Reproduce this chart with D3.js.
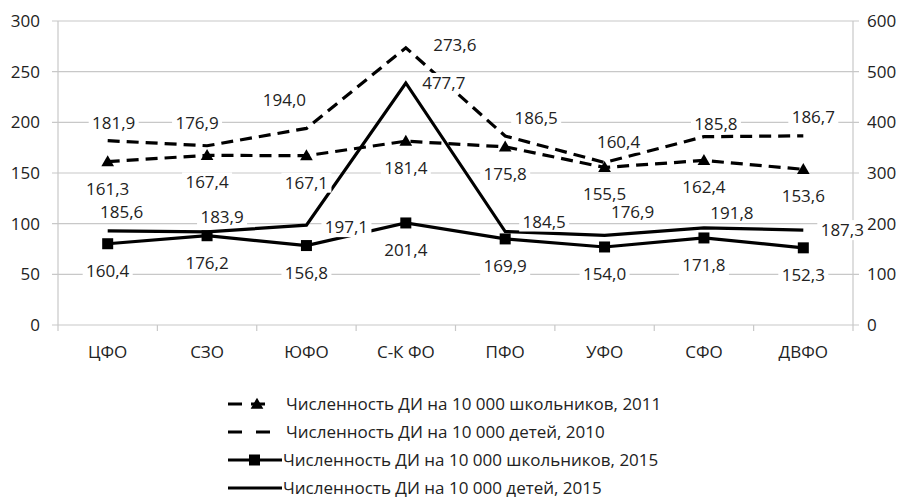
<!DOCTYPE html>
<html>
<head>
<meta charset="utf-8">
<script src="https://cdn.jsdelivr.net/npm/d3@7"></script>
<style>
  body { margin: 0; background: #fff; }
  svg text { font-family: "Open Sans", sans-serif; fill: #222; }
</style>
</head>
<body>
<svg width="902" height="498"></svg>
<script>
// data
let regions = ["ЦФО", "СЗО", "ЮФО", "С-К ФО", "ПФО", "УФО", "СФО", "ДВФО"]
let pupils2011 = [161.3, 167.4, 167.1, 181.4, 175.8, 155.5, 162.4, 153.6]
let children2010 = [181.9, 176.9, 194.0, 273.6, 186.5, 160.4, 185.8, 186.7]
let pupils2015 = [160.4, 176.2, 156.8, 201.4, 169.9, 154.0, 171.8, 152.3]
let children2015 = [185.6, 183.9, 197.1, 477.7, 184.5, 176.9, 191.8, 187.3]
let leftTicks = [0, 50, 100, 150, 200, 250, 300]
let rightTicks = [0, 100, 200, 300, 400, 500, 600]
let legendNames = [
    "Численность ДИ на 10 000 школьников, 2011",
    "Численность ДИ на 10 000 детей, 2010",
    "Численность ДИ на 10 000 школьников, 2015",
    "Численность ДИ на 10 000 детей, 2015"
]

// where the value labels sit relative to their point
let offs2010 = [[6, -18], [-10, -23], [-22, -28], [49, -3], [31, -18], [14, -20], [12, -13], [10, -19]]
let offsKids2015 = [[14, -19], [15, -15], [40, 2], [38, 0], [39, -10], [28, -23], [28, -15], [39, 0]]

let width = 902
let height = 498
let plotLeft = 58, plotRight = 853, plotTop = 21, plotBottom = 325

let svg = d3.select('svg')

let xScale = d3.scaleBand().domain(regions).range([plotLeft, plotRight])
let yLeft = d3.scaleLinear().domain([0, 300]).range([plotBottom, plotTop])
let yRight = d3.scaleLinear().domain([0, 600]).range([plotBottom, plotTop])
let cx = (d, i) => xScale(regions[i]) + xScale.bandwidth() / 2

let fmt = v => d3.format(".1f")(v).replace(".", ",")

// gridlines
svg.append('g').selectAll('line').data(leftTicks).join('line')
    .attr('x1', plotLeft - 6).attr('x2', plotRight + 6)
    .attr('y1', d => yLeft(d)).attr('y2', d => yLeft(d))
    .attr('stroke', '#c8c8c8').attr('stroke-width', 1.2)

// vertical axis lines
svg.append('line').attr('x1', plotLeft).attr('x2', plotLeft).attr('y1', plotTop).attr('y2', plotBottom)
    .attr('stroke', '#c8c8c8').attr('stroke-width', 1.2)
svg.append('line').attr('x1', plotRight).attr('x2', plotRight).attr('y1', plotTop).attr('y2', plotBottom)
    .attr('stroke', '#c8c8c8').attr('stroke-width', 1.2)

// category tick marks
svg.append('g').selectAll('line').data(d3.range(regions.length + 1)).join('line')
    .attr('x1', i => plotLeft + i * xScale.bandwidth()).attr('x2', i => plotLeft + i * xScale.bandwidth())
    .attr('y1', plotBottom).attr('y2', plotBottom + 6)
    .attr('stroke', '#c8c8c8').attr('stroke-width', 1.2)

svg.append('g').selectAll('text').data(leftTicks).join('text')
    .attr('x', 40).attr('y', d => yLeft(d) + 6)
    .attr('text-anchor', 'end').attr('font-size', 17)
    .text(d => d)

svg.append('g').selectAll('text').data(rightTicks).join('text')
    .attr('x', 867).attr('y', d => yRight(d) + 6)
    .attr('font-size', 17)
    .text(d => d)

svg.append('g').selectAll('text').data(regions).join('text')
    .attr('x', (d, i) => cx(d, i)).attr('y', 358)
    .attr('text-anchor', 'middle').attr('font-size', 17)
    .text(d => d)

// series
let series = [
    { values: children2010, y: yLeft, dash: '12,7', marker: null },
    { values: pupils2011, y: yLeft, dash: '12,7', marker: 'tri' },
    { values: children2015, y: yRight, dash: null, marker: null },
    { values: pupils2015, y: yRight, dash: null, marker: 'sq' }
]

series.forEach(s => {
    let line = d3.line().x((d, i) => cx(d, i)).y(d => s.y(d))
    svg.append('path').datum(s.values)
        .attr('d', line)
        .attr('fill', 'none').attr('stroke', '#000')
        .attr('stroke-width', 3.2)
        .attr('stroke-dasharray', s.dash)
    if (s.marker == 'tri') {
        svg.append('g').selectAll('path').data(s.values).join('path')
            .attr('d', d3.symbol(d3.symbolTriangle, 70))
            .attr('transform', (d, i) => `translate(${cx(d, i)},${s.y(d) + 1})`)
            .attr('fill', '#000')
    }
    if (s.marker == 'sq') {
        svg.append('g').selectAll('rect').data(s.values).join('rect')
            .attr('x', (d, i) => cx(d, i) - 5.5).attr('y', d => s.y(d) - 5.5)
            .attr('width', 11).attr('height', 11)
            .attr('fill', '#000')
    }
})

// value labels with white boxes
let labels = []
children2010.forEach((v, i) => labels.push({ v: v, x: cx(v, i) + offs2010[i][0], y: yLeft(v) + offs2010[i][1] }))
pupils2011.forEach((v, i) => labels.push({ v: v, x: cx(v, i), y: yLeft(v) + 27 }))
children2015.forEach((v, i) => labels.push({ v: v, x: cx(v, i) + offsKids2015[i][0], y: yRight(v) + offsKids2015[i][1] }))
pupils2015.forEach((v, i) => labels.push({ v: v, x: cx(v, i), y: yRight(v) + 27 }))

let lab = svg.append('g').selectAll('g').data(labels).join('g')
    .attr('transform', d => `translate(${d.x},${d.y})`)
lab.append('rect').attr('x', -25).attr('y', -10).attr('width', 50).attr('height', 20).attr('fill', '#fff')
lab.append('text').attr('text-anchor', 'middle').attr('y', 6).attr('font-size', 17)
    .text(d => fmt(d.v))

// legend
let legendY = [404, 432, 460, 488]
let lg = svg.append('g')
// row 1: dash + triangle
lg.append('line').attr('x1', 228).attr('x2', 271).attr('y1', legendY[0]).attr('y2', legendY[0])
    .attr('stroke', '#000').attr('stroke-width', 3.2).attr('stroke-dasharray', '14,9')
lg.append('path').attr('d', d3.symbol(d3.symbolTriangle, 70))
    .attr('transform', `translate(257,${legendY[0] + 1})`)
// row 2: dashes
lg.append('line').attr('x1', 228).attr('x2', 271).attr('y1', legendY[1]).attr('y2', legendY[1])
    .attr('stroke', '#000').attr('stroke-width', 3.2).attr('stroke-dasharray', '14,14')
// row 3: solid + square
lg.append('line').attr('x1', 228).attr('x2', 282).attr('y1', legendY[2]).attr('y2', legendY[2])
    .attr('stroke', '#000').attr('stroke-width', 3.2)
lg.append('rect').attr('x', 249).attr('y', legendY[2] - 5.5).attr('width', 11).attr('height', 11)
// row 4: solid
lg.append('line').attr('x1', 228).attr('x2', 282).attr('y1', legendY[3]).attr('y2', legendY[3])
    .attr('stroke', '#000').attr('stroke-width', 3.2)

lg.selectAll('text').data(legendNames).join('text')
    .attr('x', (d, i) => i < 2 ? 286 : 283)
    .attr('y', (d, i) => legendY[i] + 6)
    .attr('font-size', 17)
    .text(d => d)
</script>
</body>
</html>
